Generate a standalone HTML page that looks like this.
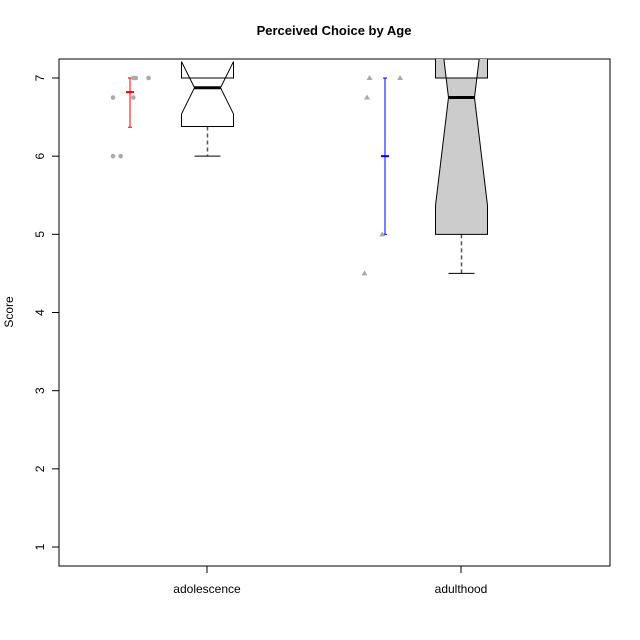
<!DOCTYPE html>
<html><head><meta charset="utf-8"><style>body{margin:0;background:#fff}svg{display:block;font-family:"Liberation Sans",sans-serif}</style></head>
<body>
<svg id="c" width="640" height="640">
<defs><clipPath id="pc"><rect x="59" y="59" width="551" height="507"/></clipPath></defs>
<text x="334" y="35" font-size="13" font-weight="bold" text-anchor="middle">Perceived Choice by Age</text>
<text transform="translate(13,312) rotate(-90)" font-size="12" text-anchor="middle">Score</text>
<rect x="59" y="59" width="551" height="507" fill="none" stroke="#000" stroke-width="1"/>
<g id="g"></g>
</svg>
<script>
const categories=["adolescence","adulthood"];
const yTicks=[1,2,3,4,5,6,7];
const q1=[6.38,5], med=[6.875,6.75], q3=[7,7], whLo=[6,4.5], whHi=[7,7];
const notchLo=[6.54,5.37], notchHi=[7.21,8.13];
const fills=["#ffffff","#cccccc"];
const pts1=[[-0.37,6.75],[-0.37,6],[-0.34,6],[-0.29,7],[-0.28,7],[-0.23,7],[-0.29,6.75]];
const pts2=[[-0.36,7],[-0.24,7],[-0.37,6.75],[-0.31,5],[-0.38,4.5]];
const means=[6.82,6], errLo=[6.37,5], errHi=[7,7];
const errColors=["#ff0000","#0000ff"];
const ns="http://www.w3.org/2000/svg";
const y=v=>78+(7-v)*78.17;
const x=i=>207+i*254;
const g=document.getElementById('g');
function mk(t,a,p){const e=document.createElementNS(ns,t);for(const k in a)e.setAttribute(k,a[k]);(p||g).appendChild(e);return e;}
yTicks.forEach(t=>{
 const l=mk('line',{x1:52,x2:59,y1:y(t),y2:y(t),stroke:'#000'});
 
 
 const tx=mk('text',{transform:`translate(44,${y(t)}) rotate(-90)`,'font-size':12,'text-anchor':'middle'});
 tx.textContent=t;
 
 
});
categories.forEach((c,i)=>{
 const l=mk('line',{x1:x(i),x2:x(i),y1:566,y2:573,stroke:'#000'});
 
 
 const tx=mk('text',{x:x(i),y:593,'font-size':12,'text-anchor':'middle'});
 tx.textContent=c;
 
 
});
const cg=mk('g',{'clip-path':'url(#pc)'});
categories.forEach((c,i)=>{
 const cx=x(i)+0.5, hw=26, nw=13;
 const w=mk('line',{x1:cx,x2:cx,y1:y(q1[i]),y2:y(whLo[i]),stroke:'#555','stroke-dasharray':'4,3','stroke-width':1.5},cg);
 
 
 const cap=mk('line',{x1:cx-nw,x2:cx+nw,y1:y(whLo[i]),y2:y(whLo[i]),stroke:'#000'},cg);
 
 
 const P=[[cx-hw,q1[i]],[cx-hw,notchLo[i]],[cx-nw,med[i]],[cx-hw,notchHi[i]],[cx-hw,q3[i]],[cx+hw,q3[i]],[cx+hw,notchHi[i]],[cx+nw,med[i]],[cx+hw,notchLo[i]],[cx+hw,q1[i]]];
 const b=mk('polygon',{points:P.map(p=>p[0]+','+y(p[1])).join(' '),fill:fills[i],stroke:'#000','stroke-width':1},cg);
 
 
 const m=mk('line',{x1:cx-nw,x2:cx+nw,y1:y(med[i]),y2:y(med[i]),stroke:'#000','stroke-width':3},cg);
 
 
 // error bar
 const ex=x(i)+(i==0?-77:-76);
 const e=mk('line',{x1:ex,x2:ex,y1:y(errLo[i]),y2:y(errHi[i]),stroke:errColors[i]});
 
 
 [errLo[i],errHi[i]].forEach(v=>{const t=mk('line',{x1:ex-2,x2:ex+2,y1:y(v),y2:y(v),stroke:errColors[i]});
  
  });
 const mm=mk('line',{x1:ex-4,x2:ex+4,y1:y(means[i]),y2:y(means[i]),stroke:errColors[i],'stroke-width':2});
 
 
});
pts1.forEach(p=>{const e=mk('circle',{cx:x(0)+p[0]*254,cy:y(p[1]),r:2.3,fill:'#aaa'});
 
 });
pts2.forEach(p=>{const px=x(1)+p[0]*254,py=y(p[1]);
 const e=mk('polygon',{points:`${px},${py-3} ${px-3},${py+2} ${px+3},${py+2}`,fill:'#aaa'});
 
 });
</script>
</body></html>
